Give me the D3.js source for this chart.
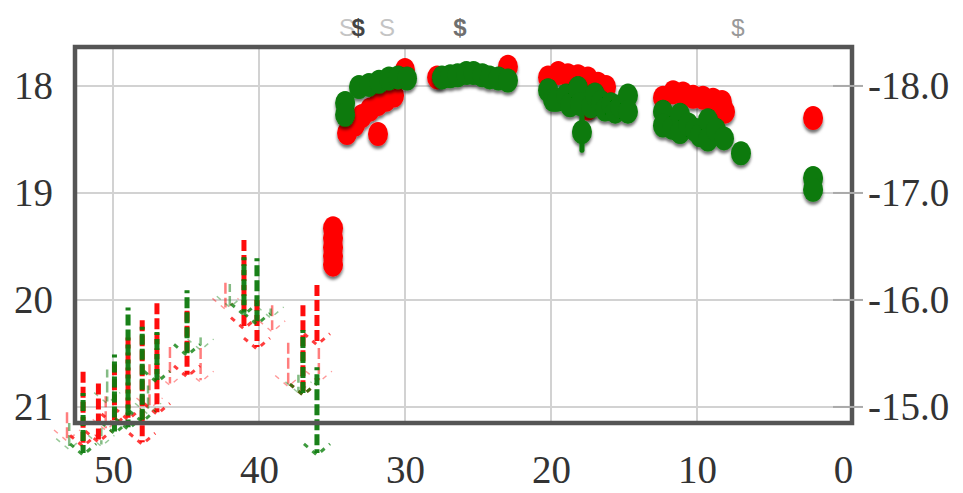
<!DOCTYPE html>
<html><head><meta charset="utf-8">
<script src="https://cdn.jsdelivr.net/npm/d3@7"></script>
<style>body{margin:0;background:#fff}</style>
</head><body><svg id="c" width="963" height="493"></svg>
<script>
// ---- data ----
const xTicks = [50, 40, 30, 20, 10, 0];
const yTicks = [18, 19, 20, 21];
const absTicks = [-18, -17, -16, -15];
const distanceModulus = 36;

// detections [days, mag]
const redPoints = [
  [33.97,18.44],[33.42,18.36],[32.95,18.28],[32.40,18.22],[31.85,18.17],[31.30,18.13],[30.75,18.09],
  [31.85,18.45],[30.0,17.85],[27.8,17.92],[22.95,17.82],
  [34.93,19.33],[34.93,19.42],[34.93,19.51],[34.93,19.59],[34.93,19.67],
  [20.2,17.92],[19.5,17.88],[18.84,17.90],[18.15,17.91],[17.47,17.93],[16.78,17.98],[16.23,18.01],[17.47,18.21],
  [12.33,18.11],[11.64,18.06],[10.96,18.07],[10.27,18.10],[9.59,18.11],[8.90,18.13],[8.29,18.15],[8.08,18.24],
  [2.05,18.30]
];
// [days, mag, err]
const greenPoints = [
  [34.1,18.16,0],[34.1,18.27,0],
  [33.15,18.01,0],[32.47,17.99,0],[31.78,17.96,0],[31.1,17.93,0],[30.48,17.92,0],[29.86,17.93,0],
  [27.47,17.92,0],[26.9,17.91,0],[26.4,17.90,0],[25.8,17.88,0],[25.3,17.88,0],[24.7,17.90,0],[24.2,17.92,0],[23.6,17.93,0],[22.95,17.95,0],
  [20.2,18.04,0],[19.86,18.13,0],[19.6,18.13,0],[18.97,18.09,0],[18.7,18.18,0],[18.15,18.02,0],[18.0,18.17,0],[17.26,18.19,0],
  [16.99,18.08,0],[16.58,18.15,0],[16.3,18.22,0],[15.9,18.17,0],[15.6,18.24,0],[15.27,18.19,0],[14.73,18.09,0],[14.73,18.24,0],
  [17.88,18.43,0.17],
  [12.33,18.24,0],[12.33,18.37,0],[11.7,18.39,0],[11.16,18.27,0],[11.16,18.43,0],[10.6,18.36,0],[10.14,18.41,0],
  [9.8,18.46,0],[9.25,18.32,0],[9.25,18.50,0],[8.7,18.41,0],[8.15,18.49,0],[6.99,18.63,0],
  [2.05,18.86,0],[2.05,18.97,0]
];

// upper limits [days, magTop, magBottom]
const redLimits = [
  [52.05,20.67,21.35],[51.0,20.78,21.31],[49.9,20.60,21.15],[48.97,20.35,21.10],[48.0,20.19,21.33],
  [46.99,20.03,21.05],[44.93,20.10,20.70],[41.03,19.44,20.25],[40.14,20.00,20.44],[36.99,20.05,20.87],[36.03,19.86,20.40]
];
const greenLimits = [
  [52.05,20.87,21.43],[49.9,20.51,21.23],[48.97,20.07,21.19],[48.0,20.25,21.12],[46.99,20.30,20.75],
  [44.93,19.91,20.50],[41.03,19.60,20.12],[40.14,19.61,20.21],[36.99,20.28,20.87],[36.03,20.63,21.43]
];
const redFaint = [
  [53.15,21.05,21.30],[46.1,20.44,20.78],[42.3,19.84,20.07],[39.1,20.05,20.28],[38.0,20.40,20.79],
  [35.9,20.45,20.75],[50.5,20.90,21.20],[47.5,20.60,21.00],[44.0,20.45,20.75]
];
const greenFaint = [
  [53.0,21.15,21.38],[50.4,20.65,20.95],[47.6,20.80,21.05],[44.0,20.35,20.45],[42.0,19.85,20.05],
  [39.2,20.08,20.15],[37.3,20.70,20.85],[50.8,21.20,21.35]
];

// spectra epochs and how many overlap
const spectraX = [33.97, 33.2, 31.23, 26.23, 7.19];
const spectraCount = [1, 4, 1, 3, 2];
const spectraGlyph = ["S", "$", "S", "$", "$"];

// ---- chart ----
const svg = d3.select("#c");
const W = 963, H = 493;
const L = 75, R = 852, T = 47, B = 423;
const x = d3.scaleLinear().domain([52.603, -0.616]).range([L, R]);
const y = d3.scaleLinear().domain([17.636, 21.15]).range([T, B]);
const y2 = d3.scaleLinear().domain(y.domain().map(d => d - distanceModulus)).range([T, B]);
const RED = "#ff0000", GREEN = "#087a08";

svg.append("rect").attr("width", W).attr("height", H).attr("fill", "#fff");

const defs = svg.append("defs");
const f = defs.append("filter").attr("id", "sh").attr("x", "-20%").attr("y", "-20%").attr("width", "140%").attr("height", "150%");
f.append("feGaussianBlur").attr("in", "SourceGraphic").attr("stdDeviation", 0.7).attr("result", "soft");
f.append("feDropShadow").attr("in", "soft").attr("dx", 0).attr("dy", 3).attr("stdDeviation", 1.8)
  .attr("flood-color", "#000").attr("flood-opacity", 0.55);
const bl = defs.append("filter").attr("id", "bl");
bl.append("feGaussianBlur").attr("stdDeviation", 0.7);

// grid
const grid = svg.append("g").attr("stroke", "#d2d2d2").attr("stroke-width", 2);
grid.selectAll(".gx").data(xTicks.filter(d => d > 0)).join("line")
  .attr("x1", d => x(d)).attr("x2", d => x(d)).attr("y1", T).attr("y2", B);
grid.selectAll(".gy").data(yTicks).join("line")
  .attr("x1", L).attr("x2", R).attr("y1", d => y(d)).attr("y2", d => y(d));

// limits
function drawLimits(data, color, offset, width, opacity) {
  const g = svg.append("g").attr("stroke", color).attr("fill", "none")
    .attr("opacity", opacity).attr("filter", "url(#bl)");
  g.selectAll("line").data(data).join("line")
    .attr("x1", d => x(d[0])).attr("x2", d => x(d[0]))
    .attr("y1", d => y(d[1])).attr("y2", d => y(d[2]))
    .attr("stroke-width", width).attr("stroke-dasharray", "11,4").attr("stroke-dashoffset", offset);
  g.selectAll("path").data(data).join("path")
    .attr("d", d => {
      const cx = x(d[0]), cy = y(d[2]) + 2;
      return `M${cx - 13},${cy - 11}L${cx},${cy}L${cx + 13},${cy - 11}`;
    })
    .attr("stroke-width", width * 0.6).attr("stroke-dasharray", "5,6").attr("opacity", 0.8);
}
drawLimits(redFaint, RED, 0, 2.5, 0.5);
drawLimits(greenFaint, GREEN, 3, 2.5, 0.5);
drawLimits(redLimits, RED, 0, 5, 0.95);
drawLimits(greenLimits, GREEN, 8, 5, 0.95);

// detections
const gr = svg.append("g").attr("filter", "url(#sh)");
gr.selectAll("ellipse").data(redPoints).join("ellipse")
  .attr("cx", d => x(d[0])).attr("cy", d => y(d[1])).attr("rx", 10).attr("ry", 12).attr("fill", RED);
const gg = svg.append("g").attr("filter", "url(#sh)");
gg.selectAll("line").data(greenPoints.filter(d => d[2] > 0)).join("line")
  .attr("x1", d => x(d[0])).attr("x2", d => x(d[0]))
  .attr("y1", d => y(d[1] - d[2])).attr("y2", d => y(d[1] + d[2]))
  .attr("stroke", GREEN).attr("stroke-width", 5).attr("stroke-linecap", "round");
gg.selectAll("ellipse").data(greenPoints).join("ellipse")
  .attr("cx", d => x(d[0])).attr("cy", d => y(d[1])).attr("rx", 10).attr("ry", 12).attr("fill", GREEN);

// frame
svg.append("rect").attr("x", L).attr("y", T).attr("width", R - L).attr("height", B - T)
  .attr("fill", "none").attr("stroke", "#555").attr("stroke-width", 4.5);

// right ticks
svg.append("g").selectAll("line").data(absTicks).join("line")
  .attr("x1", R - 19).attr("x2", R + 11).attr("y1", d => y2(d)).attr("y2", d => y2(d))
  .attr("stroke", "#aaa").attr("stroke-width", 2);

// axes
const font = "'Liberation Serif', 'Times New Roman', serif";
function style(g) {
  g.select(".domain").remove();
  g.selectAll(".tick line").remove();
  g.selectAll("text").attr("font-family", font).attr("font-size", 39).attr("fill", "#333");
}
svg.append("g").attr("transform", `translate(0,${B})`)
  .call(d3.axisBottom(x).tickValues(xTicks).tickSize(0).tickPadding(32).tickFormat(d3.format("d")))
  .call(style);
svg.append("g").attr("transform", `translate(${L},0)`)
  .call(d3.axisLeft(y).tickValues(yTicks).tickSize(0).tickPadding(22).tickFormat(d3.format("d")))
  .call(style);
svg.append("g").attr("transform", `translate(${R},0)`)
  .call(d3.axisRight(y2).tickValues(absTicks).tickSize(0).tickPadding(16).tickFormat(d => d.toFixed(1)))
  .call(style);

// spectra markers
const shade = d3.scaleLinear().domain([1, 4]).range(["#c4c4c4", "#444"]);
svg.append("g").selectAll("text").data(spectraX).join("text")
  .attr("x", d => x(d)).attr("y", 27)
  .attr("text-anchor", "middle").attr("dominant-baseline", "central")
  .attr("font-family", "'Liberation Sans', Arial, sans-serif").attr("font-size", 24)
  .attr("font-weight", (d, i) => spectraCount[i] > 2 ? "bold" : "normal")
  .attr("fill", (d, i) => shade(spectraCount[i]))
  .text((d, i) => spectraGlyph[i]);
</script>
</body></html>
